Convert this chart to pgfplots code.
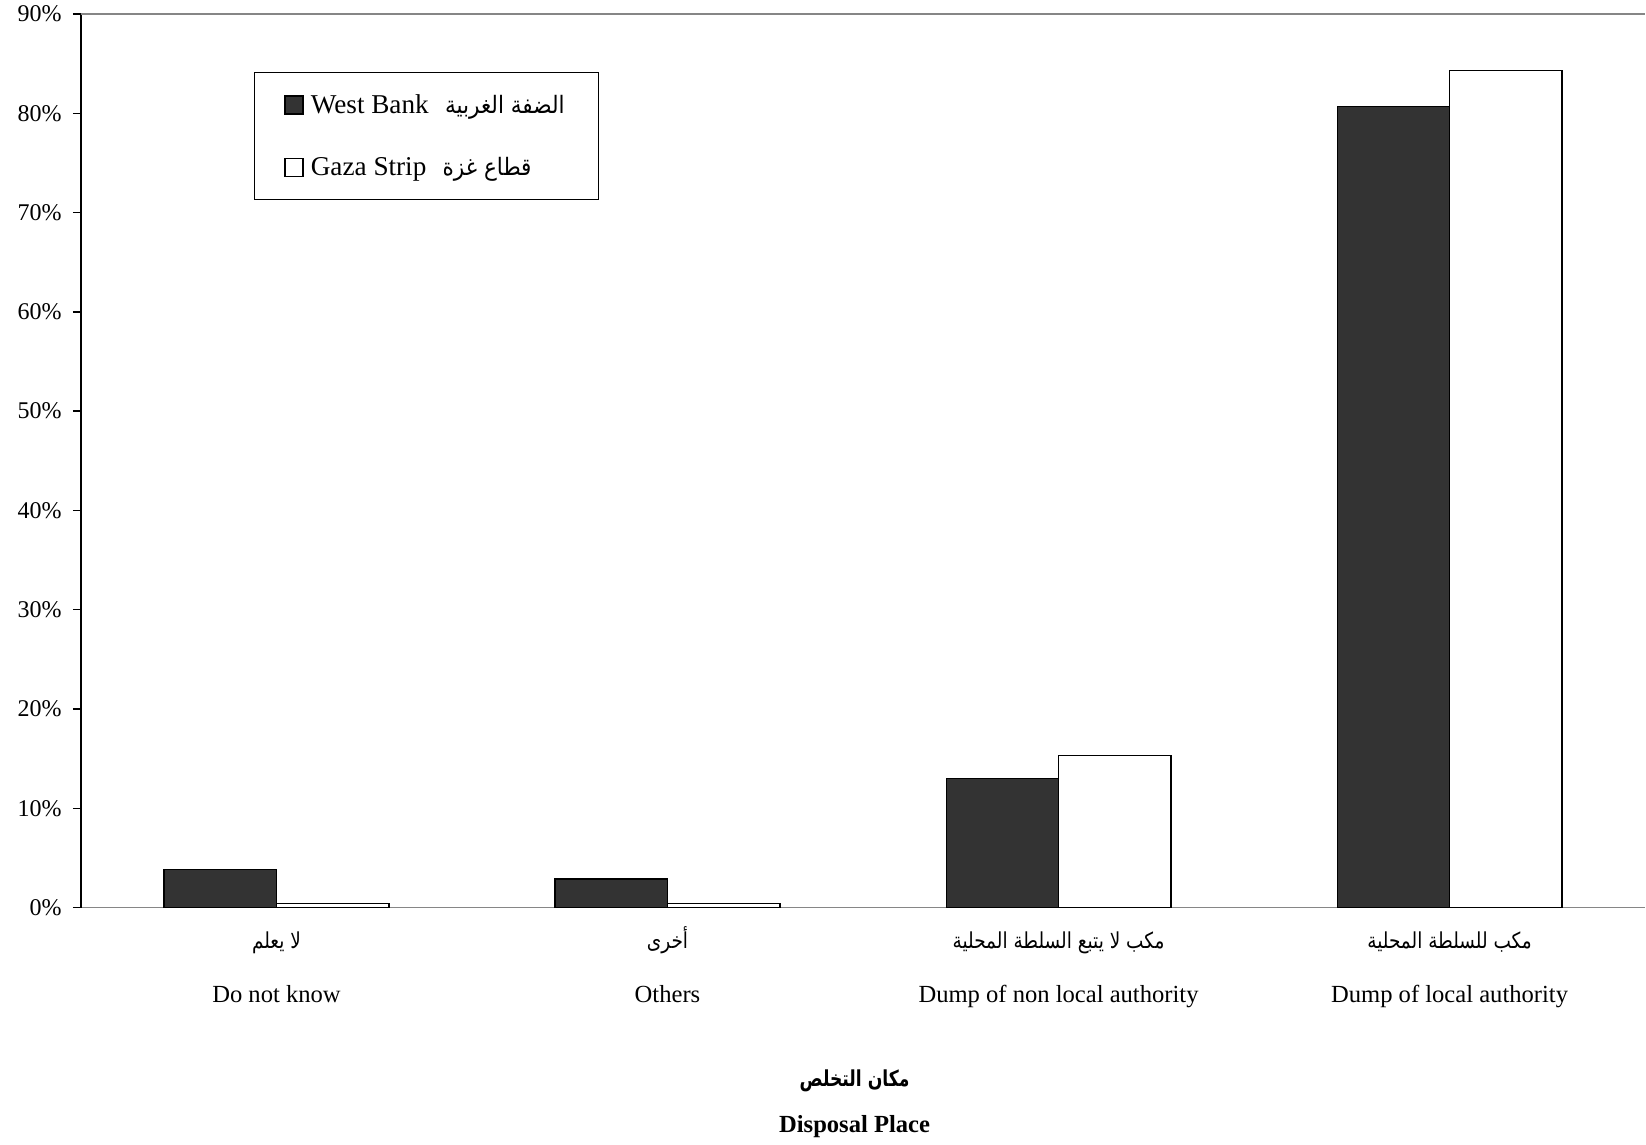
\documentclass[border=0pt]{standalone}
\usepackage{graphicx}
\usepackage{pgfplots}
\pgfplotsset{compat=1.18}
\usepackage{fontspec}
\setmainfont{Liberation Serif}
\newfontfamily\arabicfont[Script=Arabic]{DejaVu Sans}
\TeXXeTstate=1
\newcommand{\arlab}{\arabicfont\fontsize{11}{13}\selectfont}
\newcommand{\arleg}{\arabicfont\fontsize{12}{14}\selectfont}
\newcommand{\artit}{\arabicfont\bfseries\fontsize{11}{13}\selectfont}
\newcommand{\fixh}[1]{\raisebox{0pt}[9pt][3pt]{#1}}
\definecolor{wb}{HTML}{333333}
\definecolor{axgray}{HTML}{868686}
\pgfplotsset{sqlegend/.style={legend image code/.code={\draw[##1, line width=0.8pt] (0pt,-4.5pt) rectangle (9pt,4.5pt);\path (10.5pt,0pt);}}}
\begin{document}
\begin{tikzpicture}
\begin{axis}[
  scale only axis, width=782.5pt, height=447pt,
  ybar=0pt, bar width=0.287,
  xmin=-0.5, xmax=3.5, ymin=0, ymax=90,
  clip=false,
  axis x line*=bottom, axis y line*=left,
  x axis line style={draw=axgray, line width=0.9pt},
  y axis line style={draw=black, line width=0.7pt},
  xtick={0,1,2,3},
  xticklabels={
    {\fixh{\scalebox{0.84}[1]{\arlab\beginR لا يعلم\endR}}\\[12.2pt]Do not know},
    {\fixh{\scalebox{0.84}[1]{\arlab\beginR أخرى\endR}}\\[12.2pt]Others},
    {\fixh{\scalebox{0.84}[1]{\arlab\beginR مكب لا يتبع السلطة المحلية\endR}}\\[12.2pt]Dump of non local authority},
    {\fixh{\scalebox{0.84}[1]{\arlab\beginR مكب للسلطة المحلية\endR}}\\[12.2pt]Dump of local authority}},
  xtick style={draw=none},
  xticklabel style={align=center, font=\fontsize{12.3}{14.8}\selectfont, anchor=north, inner sep=0pt, yshift=-7.5pt},
  ytick={0,10,...,90},
  yticklabels={0\%,10\%,20\%,30\%,40\%,50\%,60\%,70\%,80\%,90\%},
  ytick style={draw=black, line width=0.7pt},
  tick align=outside, major tick length=4pt,
  yticklabel style={font=\fontsize{12}{14}\selectfont, inner ysep=0pt, xshift=-2.2pt},
  legend style={at={(0.1105,0.935)}, anchor=north west, draw=black, line width=0.5pt,
    font=\fontsize{13.6}{16}\selectfont, inner xsep=15pt, inner ysep=8.8pt, row sep=16.5pt},
  legend cell align=left,
]
\addplot[fill=wb, draw=black, line width=0.8pt, sqlegend] coordinates {(0,3.81) (1,2.86) (2,13.0) (3,80.7)};
\addlegendentry{West Bank\hspace{0.6em}\scalebox{0.9}[1]{\arleg\beginR الضفة الغربية\endR}}
\addplot[fill=white, draw=black, line width=0.8pt, sqlegend] coordinates {(0,0.42) (1,0.42) (2,15.33) (3,84.29)};
\addlegendentry{Gaza Strip\hspace{0.6em}\scalebox{0.9}[1]{\arleg\beginR قطاع غزة\endR}}
\draw[axgray, line width=0.9pt] (rel axis cs:0,1) -- (rel axis cs:1,1);
\node[anchor=center] at ([yshift=-86.5pt]rel axis cs:0.4946,0) {\scalebox{0.78}[1]{\artit\beginR مكان التخلص\endR}};
\node[anchor=base, font=\fontsize{12.3}{14.8}\selectfont\bfseries] at ([yshift=-112.5pt]rel axis cs:0.4946,0) {Disposal Place};
\path ([xshift=-40.5pt,yshift=-117.5pt]rel axis cs:0,0) rectangle ([yshift=7pt]rel axis cs:1,1);
\end{axis}
\end{tikzpicture}
\end{document}
